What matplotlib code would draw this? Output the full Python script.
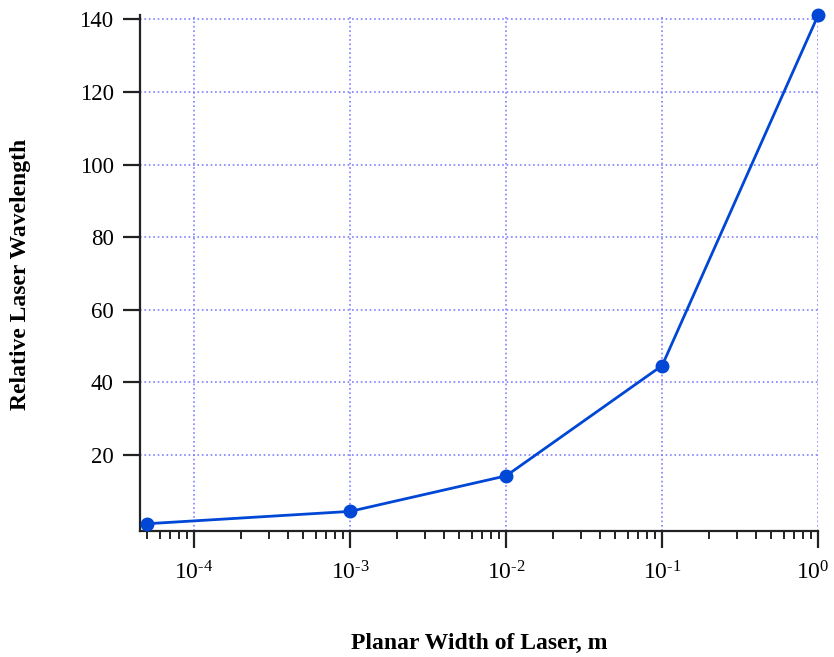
import numpy as np
import matplotlib
matplotlib.use("Agg")
import matplotlib.pyplot as plt
import matplotlib.transforms as mtransforms
from matplotlib.ticker import LogLocator, FixedLocator, FuncFormatter, NullFormatter

plt.rcParams['font.family'] = ['Liberation Serif', 'DejaVu Serif']
plt.rcParams['mathtext.fontset'] = 'custom'
plt.rcParams['mathtext.rm'] = 'Liberation Serif'

# data
width_m = [5e-5, 1e-3, 1e-2, 1e-1, 1.0]
rel_wavelength = [1.0, 4.4, 14.2, 44.6, 141.2]
y_ticks = [20, 40, 60, 80, 100, 120, 140]
x_ticks = [1e-4, 1e-3, 1e-2, 1e-1, 1e0]

fig = plt.figure(figsize=(8.34, 6.57), dpi=100)
ax = fig.add_axes([0.1679, 0.1918, 0.8131, 0.7852])

ax.plot(width_m, rel_wavelength, color='#0047d6', lw=2, marker='o', ms=9,
        clip_on=False, zorder=5)

ax.set_xscale('log')
ax.set_xlim(4.5e-5, 1.0)
ax.set_ylim(-1.0, 141.2)


def dec_fmt(v, pos):
    e = int(round(np.log10(v)))
    if e < 0:
        return r'$\mathregular{10^{\text{-}%d}}$' % (-e)
    return r'$\mathregular{10^{%d}}$' % e


ax.xaxis.set_major_locator(FixedLocator(x_ticks))
ax.xaxis.set_minor_locator(LogLocator(base=10, subs=np.arange(2, 10)))
ax.xaxis.set_minor_formatter(NullFormatter())
ax.xaxis.set_major_formatter(FuncFormatter(dec_fmt))
ax.yaxis.set_major_locator(FixedLocator(y_ticks))

ax.grid(True, which='major', color='#8080ff', ls=':', lw=1.2)
ax.set_axisbelow(True)

for s in ['top', 'right']:
    ax.spines[s].set_visible(False)
for s in ['left', 'bottom']:
    ax.spines[s].set_linewidth(1.6)
    ax.spines[s].set_color('#222222')

ax.tick_params(axis='both', which='major', direction='out', length=12,
               width=1.6, labelsize=16.5, color='#222222')
ax.tick_params(axis='x', which='major', pad=10, labelsize=17)
ax.tick_params(axis='y', which='major', pad=7)
ax.tick_params(axis='x', which='minor', direction='out', length=6,
               width=1.4, color='#222222')

# nudge the 10^0 label left so it stays inside the figure
last = ax.xaxis.get_major_ticks()[-1].label1
last.set_transform(last.get_transform() +
                   mtransforms.ScaledTranslation(-4 / 72, 0, fig.dpi_scale_trans))

fig.text(0.5745, 0.021, 'Planar Width of Laser, m', ha='center', va='center',
         fontsize=17, fontweight='bold')
fig.text(0.024, 0.583, 'Relative Laser Wavelength', ha='center', va='center',
         rotation=90, fontsize=17, fontweight='bold')

fig.savefig('out.png', dpi=100)
